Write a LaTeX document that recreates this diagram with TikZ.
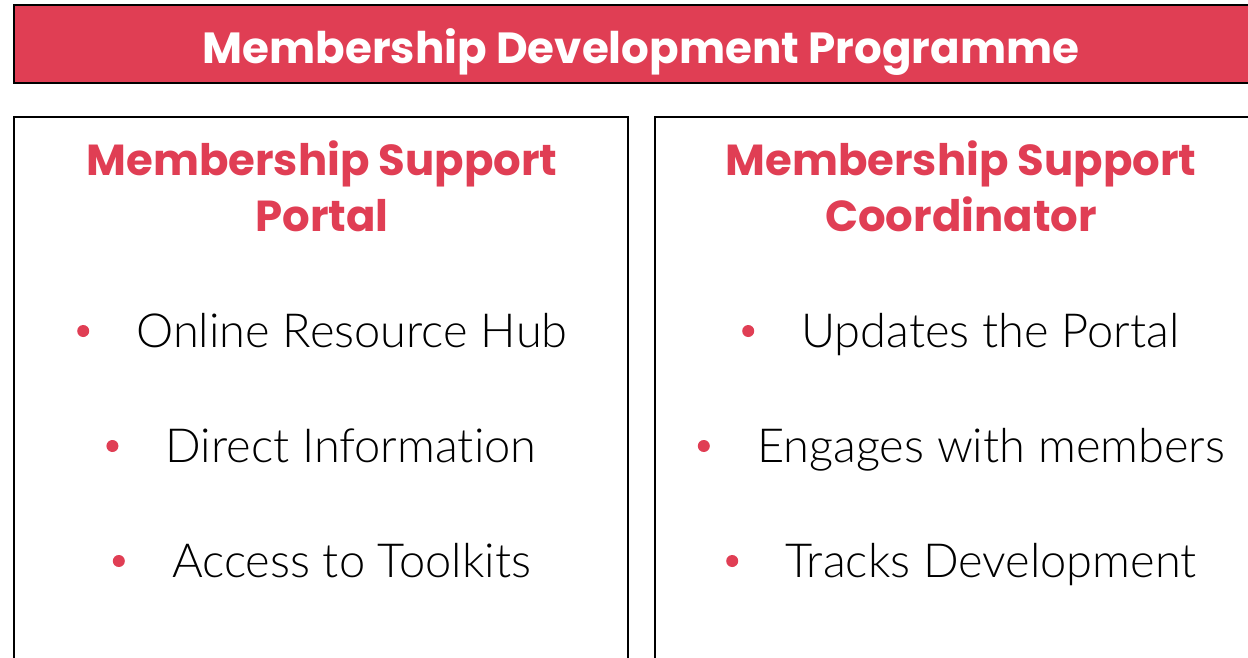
\documentclass[tikz,border=0pt]{standalone}
\usepackage{fontspec}
\setmainfont{Poppins}
\newfontfamily\itemfont[Ligatures=NoCommon]{Lato Light}
\usepackage{xcolor}
\definecolor{brandred}{RGB}{224,62,84}
\usetikzlibrary{calc}
\usetikzlibrary{positioning}
\newcommand{\widthpanel}{614pt}
\newcommand{\heightpanel}{600pt}
\tikzset{
    common/.style={draw=black, line width=2pt, rectangle, inner sep=0pt},
    banner/.style={common, fill=brandred, minimum width=1254pt, minimum height=78pt},
    panel/.style={common, anchor=north, minimum width=\widthpanel, minimum height=\heightpanel},
    bannertext/.style={anchor=base, text=white, font=\fontsize{43.6}{50}\selectfont\bfseries},
    heading/.style={anchor=base, align=center, text=brandred, font=\fontsize{43.4}{56}\selectfont\bfseries},
    item/.style={anchor=base, inner sep=0pt, font=\fontsize{47}{50}\selectfont\itemfont},
    dot/.style={circle, fill=brandred, minimum size=12pt, inner sep=0pt}
}
\newcommand\bulletitem[4]{
    \node[item] (#1) at (#2,#3) {#4};
    \node[dot] (#1-dot) at ($(#1.base west)+(-53,-16)$) {};
}

\begin{document}
\begin{tikzpicture}[x=1pt, y=-1pt]
    \useasboundingbox (0,0) rectangle (1248,657);

    \node[banner] (banner) at (641,44) {};
    \node[bannertext] (title) at (641,63) {Membership Development Programme};

    \node[panel] (portal) at (320.5,116) {};
    \node[panel] (coord) at (962,116) {};

    \node[heading] (portal-head) at (322,231) {Membership Support\\Portal};
    \node[heading] (coord-head) at (961,231) {Membership Support\\Coordinator};

    \bulletitem{hub}{352}{347}{Online Resource Hub}
    \bulletitem{info}{351}{462}{Direct Information}
    \bulletitem{kits}{351.5}{577}{Access to Toolkits}

    \bulletitem{updates}{990.5}{347}{Updates the Portal}
    \bulletitem{engages}{991}{462}{Engages with members}
    \bulletitem{tracks}{991}{577}{Tracks Development}
\end{tikzpicture}
\end{document}
